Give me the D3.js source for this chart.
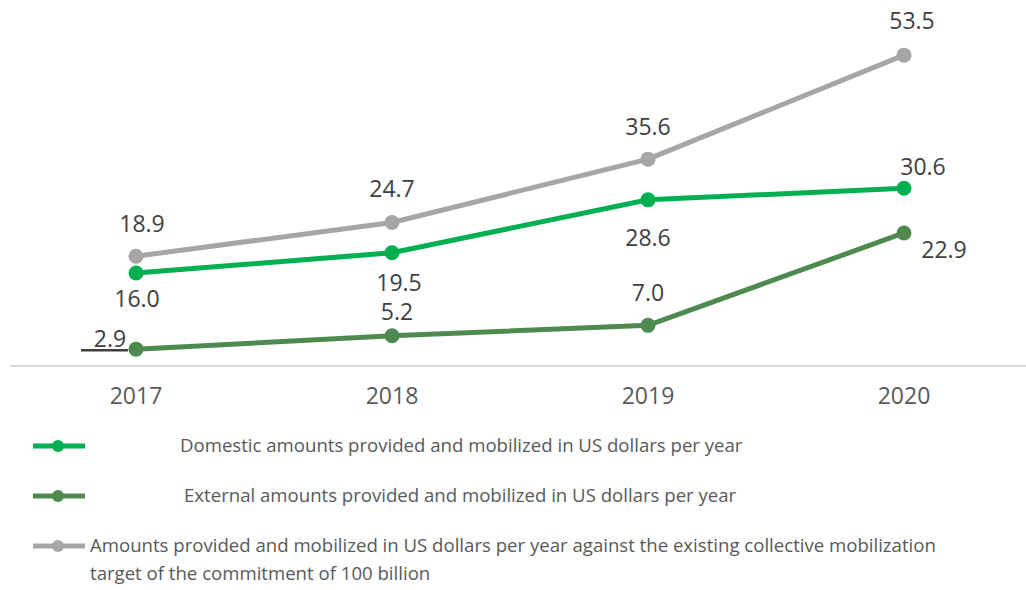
<!DOCTYPE html>
<meta charset="utf-8">
<style>
    body {
        margin: 0;
        background-color: #ffffff;
    }

    svg {
        font-family: "Open Sans", sans-serif;
    }

    .axis text {
        font-size: 23px;
        fill: #595959;
    }

    .label {
        font-size: 23px;
        fill: #404040;
    }

    .legend text {
        font-size: 18.6px;
        fill: #595959;
    }
</style>

<body>
    <svg width="1026" height="590"></svg>
    <script src="https://d3js.org/d3.v7.min.js"></script>
    <script>
        // data
        var years = ["2017", "2018", "2019", "2020"];
        var domestic = [16.0, 19.5, 28.6, 30.6];
        var external = [2.9, 5.2, 7.0, 22.9];
        var total = [18.9, 24.7, 35.6, 53.5];
        var seriesNames = [
            "Domestic amounts provided and mobilized in US dollars per year",
            "External amounts provided and mobilized in US dollars per year",
            "Amounts provided and mobilized in US dollars per year against the existing collective mobilization|target of the commitment of 100 billion"
        ];

        var svg = d3.select("svg");

        var x = d3.scaleBand().domain(years).range([8, 1032]);
        var y = d3.scaleLinear().domain([0, 60]).range([366, 17.4]);

        var series = [
            { name: seriesNames[0], values: domestic, color: "#00b050",
              // label offsets (dx, dy) per point
              offs: [[1, 34], [7, 38], [0, 46], [19, -13]] },
            { name: seriesNames[1], values: external, color: "#4e8a50",
              offs: [[-26, -2], [5, -16], [0, -24], [40, 25]] },
            { name: seriesNames[2], values: total, color: "#a6a6a6",
              offs: [[6, -24], [0, -25], [0, -24], [8, -26]] }
        ];

        // axis line
        svg.append("line")
            .attr("x1", 10).attr("x2", 1026)
            .attr("y1", y(0)).attr("y2", y(0))
            .attr("stroke", "#d9d9d9")
            .attr("stroke-width", 2);

        var xAxis = svg.append("g")
            .attr("class", "axis")
            .attr("transform", "translate(0," + y(0) + ")")
            .call(d3.axisBottom(x).tickSize(0).tickPadding(22));
        xAxis.select(".domain").remove();
        xAxis.selectAll("text").style("font-family", "'Open Sans', sans-serif");

        var line = d3.line()
            .x(function (d, i) { return x(years[i]) + x.bandwidth() / 2; })
            .y(function (d) { return y(d); });

        // draw from back to front: grey, dark green, green
        [2, 1, 0].forEach(function (k) {
            var s = series[k];
            var g = svg.append("g");
            g.append("path")
                .datum(s.values)
                .attr("fill", "none")
                .attr("stroke", s.color)
                .attr("stroke-width", 5)
                .attr("d", line);
            g.selectAll("circle")
                .data(s.values)
                .enter().append("circle")
                .attr("cx", function (d, i) { return x(years[i]) + x.bandwidth() / 2; })
                .attr("cy", function (d) { return y(d); })
                .attr("r", 7.5)
                .attr("fill", s.color);
        });

        // data labels
        series.forEach(function (s) {
            svg.append("g").selectAll("text")
                .data(s.values)
                .enter().append("text")
                .attr("class", "label")
                .attr("text-anchor", "middle")
                .attr("x", function (d, i) { return x(years[i]) + x.bandwidth() / 2 + s.offs[i][0]; })
                .attr("y", function (d, i) { return y(d) + s.offs[i][1]; })
                .text(function (d) { return d.toFixed(1); });
        });

        // leader line under the 2.9 label
        svg.append("line")
            .attr("x1", 81).attr("x2", 128)
            .attr("y1", y(external[0]) + 1).attr("y2", y(external[0]) + 1)
            .attr("stroke", "#404040")
            .attr("stroke-width", 2.5);

        // legend
        var legendX = [180, 184, 90];
        var legend = svg.append("g").attr("class", "legend");
        series.forEach(function (s, i) {
            var ly = 446 + i * 50;
            legend.append("line")
                .attr("x1", 33).attr("x2", 85)
                .attr("y1", ly).attr("y2", ly)
                .attr("stroke", s.color)
                .attr("stroke-width", 5);
            legend.append("circle")
                .attr("cx", 58).attr("cy", ly).attr("r", 6)
                .attr("fill", s.color);
            s.name.split("|").forEach(function (t, j) {
                legend.append("text")
                    .attr("x", legendX[i])
                    .attr("y", ly + 6 + j * 28)
                    .text(t);
            });
        });
    </script>
</body>
